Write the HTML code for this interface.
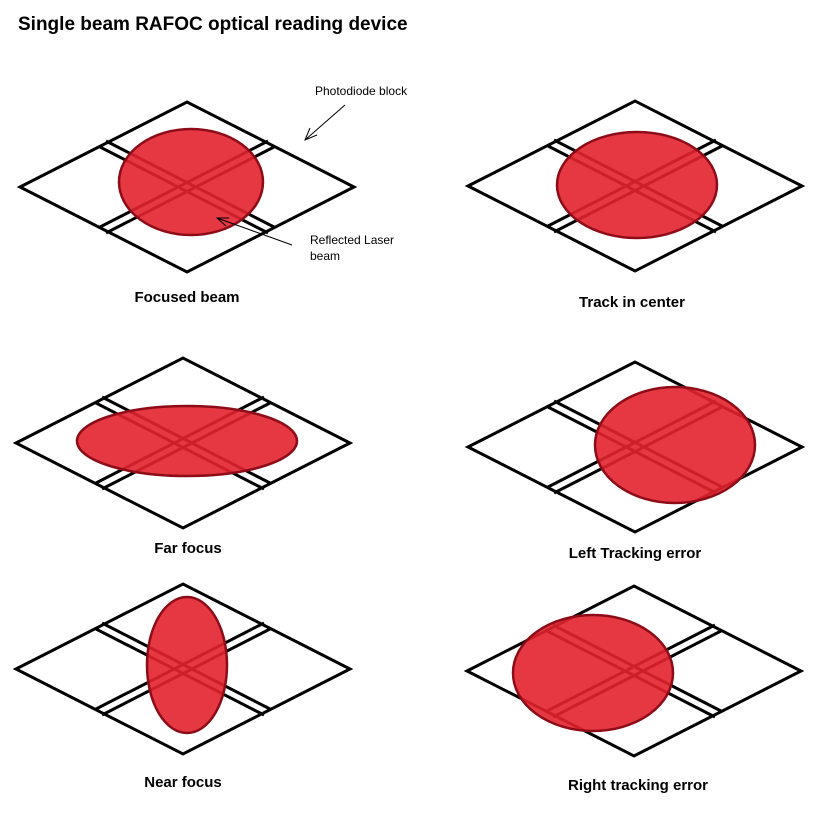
<!DOCTYPE html>
<html><head><style>
body{margin:0;background:#fff;}
svg{display:block;}
text{font-family:"Liberation Sans",sans-serif;}
.l{font-weight:bold;font-size:15px;}
</style></head><body>
<svg width="837" height="829" viewBox="0 0 837 829">
<defs>
<g id="d" fill="none" stroke="#000" stroke-width="3">
<polygon points="-167,0 0,-85 167,0 0,85"/>
<line x1="-87" y1="-40" x2="81" y2="46"/>
<line x1="-81" y1="-46" x2="87" y2="40"/>
<line x1="-87" y1="40" x2="81" y2="-46"/>
<line x1="-81" y1="46" x2="87" y2="-40"/>
</g>
</defs>
<text x="18" y="30" font-weight="bold" font-size="19">Single beam RAFOC optical reading device</text>
<use href="#d" transform="translate(187,187)"/>
<use href="#d" transform="translate(635,186)"/>
<use href="#d" transform="translate(183,443)"/>
<use href="#d" transform="translate(635,447)"/>
<use href="#d" transform="translate(183,669)"/>
<use href="#d" transform="translate(634,671)"/>
<g fill="#e3222e" fill-opacity="0.9" stroke="#8e0c18" stroke-width="2.5">
<ellipse cx="191" cy="182" rx="72" ry="53"/>
<ellipse cx="637" cy="185" rx="80" ry="53"/>
<ellipse cx="187" cy="441" rx="110" ry="35"/>
<ellipse cx="675" cy="445" rx="80" ry="58"/>
<ellipse cx="187" cy="665" rx="40" ry="68"/>
<ellipse cx="593" cy="673" rx="80" ry="58"/>
</g>
<g stroke="#000" stroke-width="1" fill="none">
<line x1="345" y1="105" x2="305" y2="140"/>
<polyline points="310,128 305,140 317,135"/>
<line x1="292" y1="245" x2="217" y2="218"/>
<polyline points="229,218 217,218 226,226"/>
</g>
<text x="315" y="95" font-size="12">Photodiode block</text>
<text x="310" y="244" font-size="12">Reflected Laser</text>
<text x="310" y="260" font-size="12">beam</text>
<g text-anchor="middle">
<text class="l" x="187" y="302">Focused beam</text>
<text class="l" x="632" y="307">Track in center</text>
<text class="l" x="188" y="553">Far focus</text>
<text class="l" x="635" y="558">Left Tracking error</text>
<text class="l" x="183" y="787">Near focus</text>
<text class="l" x="638" y="790">Right tracking error</text>
</g>
</svg>
</body></html>
